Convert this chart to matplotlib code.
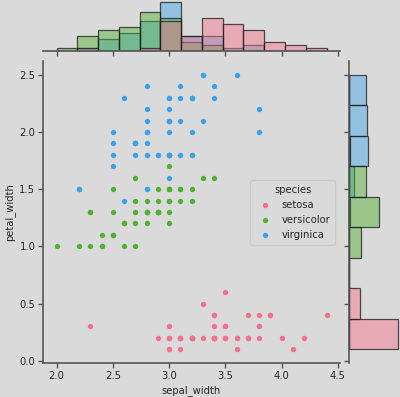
"""Iris joint plot: sepal_width vs petal_width with per-species marginal histograms."""

import matplotlib

matplotlib.use("Agg")
import matplotlib.pyplot as plt  # noqa: E402
import numpy as np  # noqa: E402
from matplotlib.colors import to_rgba  # noqa: E402

species = ["setosa", "versicolor", "virginica"]
colors = ["#f7718a", "#50b131", "#3ba3ec"]

setosa_sepal_width = [3.5, 3.0, 3.2, 3.1, 3.6, 3.9, 3.4, 3.4, 2.9, 3.1, 3.7, 3.4, 3.0, 3.0, 4.0, 4.4, 3.9,
                      3.5, 3.8, 3.8, 3.4, 3.7, 3.6, 3.3, 3.4, 3.0, 3.4, 3.5, 3.4, 3.2, 3.1, 3.4, 4.1, 4.2,
                      3.1, 3.2, 3.5, 3.6, 3.0, 3.4, 3.5, 2.3, 3.2, 3.5, 3.8, 3.0, 3.8, 3.2, 3.7, 3.3]
setosa_petal_width = [0.2, 0.2, 0.2, 0.2, 0.2, 0.4, 0.3, 0.2, 0.2, 0.1, 0.2, 0.2, 0.1, 0.1, 0.2, 0.4, 0.4,
                      0.3, 0.3, 0.3, 0.2, 0.4, 0.2, 0.5, 0.2, 0.2, 0.4, 0.2, 0.2, 0.2, 0.2, 0.4, 0.1, 0.2,
                      0.2, 0.2, 0.2, 0.1, 0.2, 0.2, 0.3, 0.3, 0.2, 0.6, 0.4, 0.3, 0.2, 0.2, 0.2, 0.2]
versicolor_sepal_width = [3.2, 3.2, 3.1, 2.3, 2.8, 2.8, 3.3, 2.4, 2.9, 2.7, 2.0, 3.0, 2.2, 2.9, 2.9, 3.1,
                          3.0, 2.7, 2.2, 2.5, 3.2, 2.8, 2.5, 2.8, 2.9, 3.0, 2.8, 3.0, 2.9, 2.6, 2.4, 2.4,
                          2.7, 2.7, 3.0, 3.4, 3.1, 2.3, 3.0, 2.5, 2.6, 3.0, 2.6, 2.3, 2.7, 3.0, 2.9, 2.9,
                          2.5, 2.8]
versicolor_petal_width = [1.4, 1.5, 1.5, 1.3, 1.5, 1.3, 1.6, 1.0, 1.3, 1.4, 1.0, 1.5, 1.0, 1.4, 1.3, 1.4,
                          1.5, 1.0, 1.5, 1.1, 1.8, 1.3, 1.5, 1.2, 1.3, 1.4, 1.4, 1.7, 1.5, 1.0, 1.1, 1.0,
                          1.2, 1.6, 1.5, 1.6, 1.5, 1.3, 1.3, 1.3, 1.2, 1.4, 1.2, 1.0, 1.3, 1.2, 1.3, 1.3,
                          1.1, 1.3]
virginica_sepal_width = [3.3, 2.7, 3.0, 2.9, 3.0, 3.0, 2.5, 2.9, 2.5, 3.6, 3.2, 2.7, 3.0, 2.5, 2.8, 3.2,
                         3.0, 3.8, 2.6, 2.2, 3.2, 2.8, 2.8, 2.7, 3.3, 3.2, 2.8, 3.0, 2.8, 3.0, 2.8, 3.8,
                         2.8, 2.8, 2.6, 3.0, 3.4, 3.1, 3.0, 3.1, 3.1, 3.1, 2.7, 3.2, 3.3, 3.0, 2.5, 3.0,
                         3.4, 3.0]
virginica_petal_width = [2.5, 1.9, 2.1, 1.8, 2.2, 2.1, 1.7, 1.8, 1.8, 2.5, 2.0, 1.9, 2.1, 2.0, 2.4, 2.3,
                         1.8, 2.2, 2.3, 1.5, 2.3, 2.0, 2.0, 1.8, 2.1, 1.8, 1.8, 1.8, 2.1, 1.6, 1.9, 2.0,
                         2.2, 1.5, 1.4, 2.3, 2.4, 1.8, 1.8, 2.1, 2.4, 2.3, 1.9, 2.3, 2.5, 2.3, 1.9, 2.0,
                         2.3, 1.8]

sepal = [setosa_sepal_width, versicolor_sepal_width, virginica_sepal_width]
petal = [setosa_petal_width, versicolor_petal_width, virginica_petal_width]

BG = "#dadada"
SPINE = "#555555"
FS = 7.2

plt.rcParams.update({
    "font.size": FS,
    "text.color": "#262626",
    "axes.labelcolor": "#262626",
    "xtick.color": SPINE,
    "ytick.color": SPINE,
    "xtick.labelcolor": "#262626",
    "ytick.labelcolor": "#262626",
    "xtick.labelsize": FS,
    "ytick.labelsize": FS,
})

fig = plt.figure(figsize=(4.0, 3.97), dpi=100, facecolor=BG)
ax = fig.add_axes([0.1075, 0.0856, 0.7425, 0.7607], facecolor=BG)
ax_top = fig.add_axes([0.1075, 0.8715, 0.7425, 0.1285], facecolor=BG, sharex=ax)
ax_right = fig.add_axes([0.8725, 0.0856, 0.1275, 0.7607], facecolor=BG, sharey=ax)

for name, c, xs, ys in zip(species, colors, sepal, petal):
    ax.scatter(xs, ys, s=15, color=c, linewidths=0, label=name, zorder=3)

# common bins across species, layered with the first level on top
x_bins = np.histogram_bin_edges(np.concatenate(sepal), bins="auto")
y_bins = np.histogram_bin_edges(np.concatenate(petal), bins="auto")
for c, xs, ys in reversed(list(zip(colors, sepal, petal))):
    ax_top.hist(xs, bins=x_bins, facecolor=to_rgba(c, 0.45), edgecolor=(0.1, 0.1, 0.1, 0.75),
                linewidth=0.9)
    ax_right.hist(ys, bins=y_bins, orientation="horizontal", facecolor=to_rgba(c, 0.45),
                  edgecolor=(0.1, 0.1, 0.1, 0.75), linewidth=0.9)

ax.set_xlabel("sepal_width", labelpad=3)
ax.set_ylabel("petal_width", labelpad=3)
ax.set_xticks([2.0, 2.5, 3.0, 3.5, 4.0, 4.5])
ax.set_yticks([0.0, 0.5, 1.0, 1.5, 2.0, 2.5])

for a in (ax, ax_top, ax_right):
    for side in ("top", "right"):
        a.spines[side].set_visible(False)
    for side in ("left", "bottom"):
        a.spines[side].set_color(SPINE)
        a.spines[side].set_linewidth(1.2)
    a.tick_params(length=3.5, width=1.0, pad=2)

ax_top.spines["left"].set_visible(False)
ax_top.tick_params(axis="x", labelbottom=False)
ax_top.tick_params(axis="y", left=False, labelleft=False)
ax_right.spines["bottom"].set_visible(False)
ax_right.tick_params(axis="y", labelleft=False)
ax_right.tick_params(axis="x", bottom=False, labelbottom=False)

leg = ax.legend(title="species", loc="center right", fontsize=FS, title_fontsize=FS,
                frameon=True, facecolor=BG, edgecolor="#c8c8c8", framealpha=0.8,
                handletextpad=0.6, borderpad=0.5, markerscale=1.0)

fig.savefig("out.png", dpi=100, facecolor=BG)
